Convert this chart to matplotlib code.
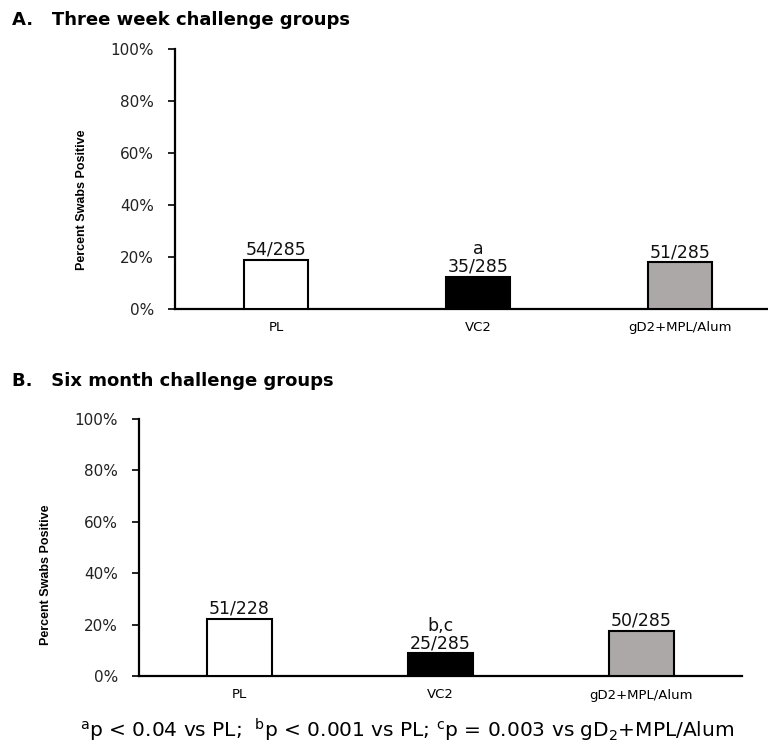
import matplotlib
matplotlib.use("Agg")
import matplotlib.pyplot as plt
import numpy as np

categories = ["PL", "VC2", "gD2+MPL/Alum"]
a_positive = [54, 35, 51]
a_total = [285, 285, 285]
b_positive = [51, 25, 50]
b_total = [228, 285, 285]
a_sig = ["", "a", ""]
b_sig = ["", "b,c", ""]
bar_colors = ["white", "black", "#aba8a7"]
yticks = [0, 20, 40, 60, 80, 100]

plt.rcParams["font.family"] = ["DejaVu Sans"]

fig = plt.figure(figsize=(7.68, 7.49), dpi=100)
W, H = 768, 749


def panel(left_px, zero_px, top_px, right_px, pos, tot, sig, ylabel_x, ylabel_y):
    ax = fig.add_axes([left_px / W, (H - zero_px) / H,
                       (right_px - left_px) / W, (zero_px - top_px) / H])
    x = np.arange(len(categories))
    vals = [100.0 * p / t for p, t in zip(pos, tot)]
    ax.bar(x, vals, width=0.32, color=bar_colors, edgecolor="black",
           linewidth=1.5, zorder=3)
    for xi, v, p, t, s in zip(x, vals, pos, tot, sig):
        lab = f"{p}/{t}" if not s else f"{s}\n{p}/{t}"
        ax.annotate(lab, (xi, v), xytext=(0, 1), textcoords="offset points",
                    ha="center", va="bottom", fontsize=12.5,
                    linespacing=0.95, color="#111111")
    ax.set_xlim(-0.5, 2.5)
    ax.set_ylim(0, 100)
    ax.set_yticks(yticks)
    ax.set_yticklabels([f"{t}%" for t in yticks], fontsize=11, color="#222222")
    ax.set_xticks(x)
    ax.set_xticklabels(categories, fontsize=9.5)
    ax.tick_params(axis="x", length=0, pad=9)
    ax.tick_params(axis="y", length=5, width=1.2, direction="out", pad=10)
    for s in ["top", "right"]:
        ax.spines[s].set_visible(False)
    for s in ["left", "bottom"]:
        ax.spines[s].set_linewidth(1.6)
    ax.set_ylabel("Percent Swabs Positive",
                  family=["Liberation Sans", "DejaVu Sans"],
                  fontweight="bold", fontsize=9)
    ax.yaxis.set_label_coords((ylabel_x - left_px) / (right_px - left_px),
                              (zero_px - ylabel_y) / (zero_px - top_px))
    return ax


panel(175, 309, 49, 781, a_positive, a_total, a_sig, 88, 200)
panel(139, 676, 419, 742, b_positive, b_total, b_sig, 52, 575)

fig.text(12 / W, 1 - 20 / H, "A.   Three week challenge groups",
         fontsize=13, fontweight="bold", va="center", ha="left")
fig.text(12 / W, 1 - 381 / H, "B.   Six month challenge groups",
         fontsize=13, fontweight="bold", va="center", ha="left")

fig.text(80 / W, 1 - 730 / H,
         r"$^{\mathrm{a}}$p < 0.04 vs PL;  $^{\mathrm{b}}$p < 0.001 vs PL; "
         r"$^{\mathrm{c}}$p = 0.003 vs gD$_{\mathrm{2}}$+MPL/Alum",
         fontsize=14.5, va="center", ha="left")

fig.savefig("out.png", dpi=100)
